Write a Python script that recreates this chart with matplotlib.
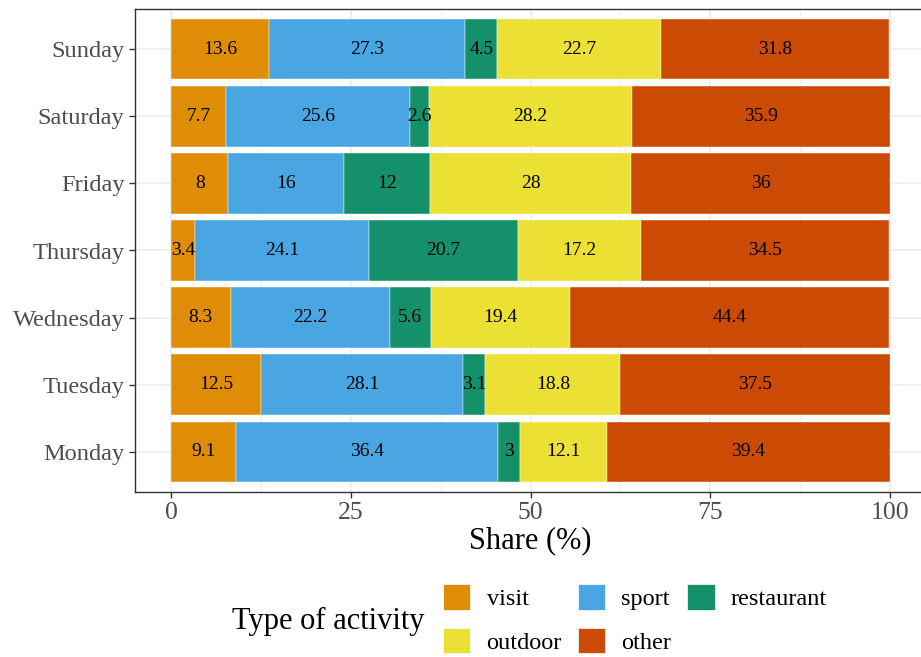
import numpy as np
import matplotlib
matplotlib.use("Agg")
import matplotlib.pyplot as plt
from matplotlib.patches import Patch

plt.rcParams['font.family'] = ['Liberation Serif', 'DejaVu Serif']

days = ["Monday", "Tuesday", "Wednesday", "Thursday", "Friday", "Saturday", "Sunday"]
activities = ["visit", "sport", "restaurant", "outdoor", "other"]
colors = ["#DF8C06", "#4AA5E3", "#14906A", "#EDE035", "#CB4A04"]

visit = [9.1, 12.5, 8.3, 3.4, 8, 7.7, 13.6]
sport = [36.4, 28.1, 22.2, 24.1, 16, 25.6, 27.3]
restaurant = [3, 3.1, 5.6, 20.7, 12, 2.6, 4.5]
outdoor = [12.1, 18.8, 19.4, 17.2, 28, 28.2, 22.7]
other = [39.4, 37.5, 44.4, 34.5, 36, 35.9, 31.8]
series = [visit, sport, restaurant, outdoor, other]

W, H = 921, 657
fig = plt.figure(figsize=(W / 100, H / 100), dpi=100)
# panel runs past the right edge of the image, as in the original crop
ax = fig.add_axes([135 / W, (H - 492) / H, (926 - 135) / W, (492 - 9) / H])

y = np.arange(len(days))
left = np.zeros(len(days))
handles = []
for name, vals, col in zip(activities, series, colors):
    vals = np.array(vals, dtype=float)
    ax.barh(y, vals, left=left, height=0.9, color=col, edgecolor="white",
            linewidth=0.3, zorder=2)
    for yi, l, v in zip(y, left, vals):
        ax.text(l + v / 2, yi, "%g" % v, ha="center", va="center", fontsize=14,
                color="black", zorder=3)
    left += vals
    handles.append(Patch(facecolor=col, edgecolor="white", linewidth=0.5, label=name))

ax.set_xlim(-5, 105)
ax.set_ylim(-0.6, 6.6)
ax.set_xticks([0, 25, 50, 75, 100])
ax.set_xticks([12.5, 37.5, 62.5, 87.5], minor=True)
ax.set_yticks(y)
ax.set_yticklabels(days)
ax.grid(which="major", color="#EBEBEB", linewidth=1.1, zorder=0)
ax.grid(which="minor", axis="x", color="#EBEBEB", linewidth=0.6, zorder=0)
ax.set_axisbelow(True)
ax.tick_params(axis="both", which="major", colors="#333333",
               labelcolor="#4D4D4D", length=4, width=1)
ax.tick_params(axis="x", labelsize=18.5)
ax.tick_params(axis="y", labelsize=17.6)
ax.tick_params(which="minor", length=0)
for s in ax.spines.values():
    s.set_color("#333333")
    s.set_linewidth(1)
ax.set_xlabel("Share (%)", fontsize=22, color="black", labelpad=1)

# legend: title on the left, keys in two rows
order = [0, 3, 1, 4, 2]
leg = fig.legend([handles[i] for i in order], [activities[i] for i in order],
                 ncol=3, loc="center left", bbox_to_anchor=(443 / W, (H - 619) / H),
                 frameon=False, fontsize=17.5, handlelength=1.13, handleheight=1.25,
                 handletextpad=0.66, columnspacing=0.66, labelspacing=0.7,
                 borderpad=0, borderaxespad=0)
fig.text(232 / W, (H - 621) / H, "Type of activity", fontsize=22, ha="left",
         va="center", color="black")

fig.savefig("out.png", dpi=100)
